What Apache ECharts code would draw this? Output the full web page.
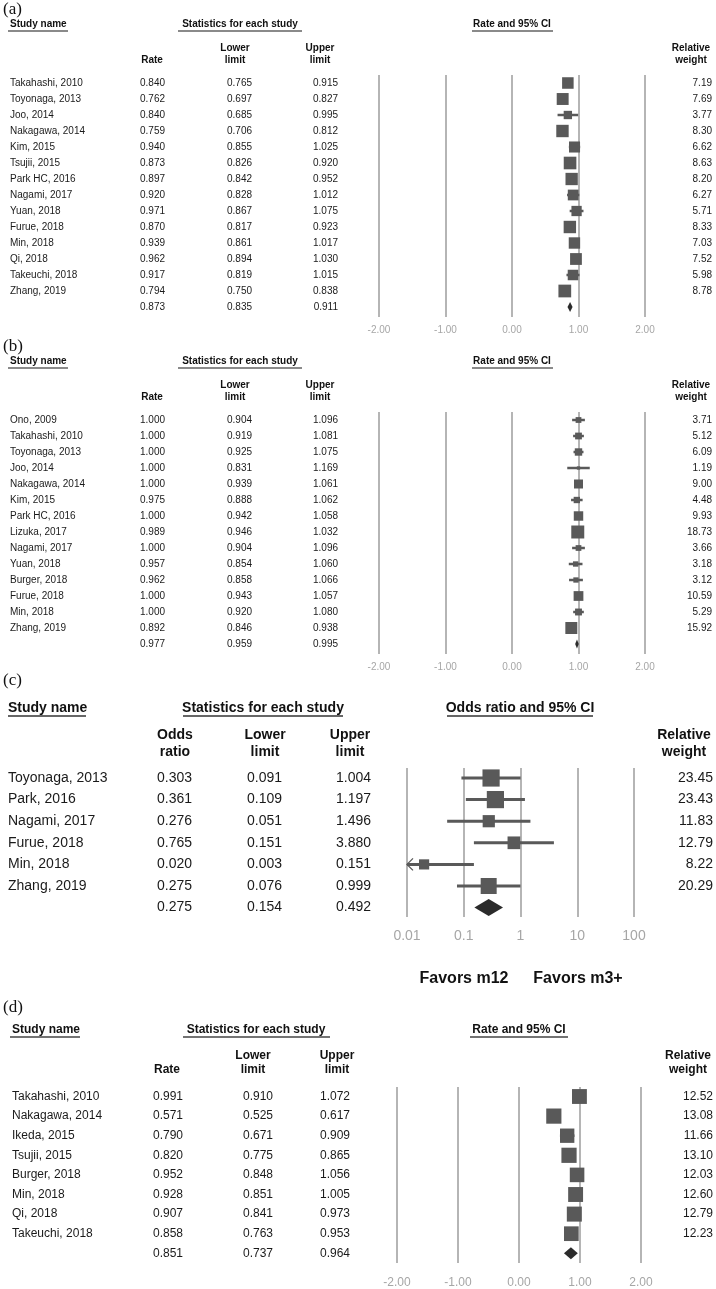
<!DOCTYPE html>
<html><head><meta charset="utf-8">
<script src="https://cdn.jsdelivr.net/npm/echarts@6/dist/echarts.min.js"></script>
<style>html,body{margin:0;padding:0;background:#fff}#c{width:716px;height:1289px}</style>
</head><body><div id="c"></div>
<script>
// ---------- DATA ----------
// Panel (a)
const aStudies = ['Takahashi, 2010','Toyonaga, 2013','Joo, 2014','Nakagawa, 2014','Kim, 2015','Tsujii, 2015','Park HC, 2016','Nagami, 2017','Yuan, 2018','Furue, 2018','Min, 2018','Qi, 2018','Takeuchi, 2018','Zhang, 2019'];
const aRate   = [0.840,0.762,0.840,0.759,0.940,0.873,0.897,0.920,0.971,0.870,0.939,0.962,0.917,0.794];
const aLower  = [0.765,0.697,0.685,0.706,0.855,0.826,0.842,0.828,0.867,0.817,0.861,0.894,0.819,0.750];
const aUpper  = [0.915,0.827,0.995,0.812,1.025,0.920,0.952,1.012,1.075,0.923,1.017,1.030,1.015,0.838];
const aWeight = [7.19,7.69,3.77,8.30,6.62,8.63,8.20,6.27,5.71,8.33,7.03,7.52,5.98,8.78];
const aSummary = [0.873,0.835,0.911];

// Panel (b)
const bStudies = ['Ono, 2009','Takahashi, 2010','Toyonaga, 2013','Joo, 2014','Nakagawa, 2014','Kim, 2015','Park HC, 2016','Lizuka, 2017','Nagami, 2017','Yuan, 2018','Burger, 2018','Furue, 2018','Min, 2018','Zhang, 2019'];
const bRate   = [1.000,1.000,1.000,1.000,1.000,0.975,1.000,0.989,1.000,0.957,0.962,1.000,1.000,0.892];
const bLower  = [0.904,0.919,0.925,0.831,0.939,0.888,0.942,0.946,0.904,0.854,0.858,0.943,0.920,0.846];
const bUpper  = [1.096,1.081,1.075,1.169,1.061,1.062,1.058,1.032,1.096,1.060,1.066,1.057,1.080,0.938];
const bWeight = [3.71,5.12,6.09,1.19,9.00,4.48,9.93,18.73,3.66,3.18,3.12,10.59,5.29,15.92];
const bSummary = [0.977,0.959,0.995];

// Panel (c)
const cStudies = ['Toyonaga, 2013','Park, 2016','Nagami, 2017','Furue, 2018','Min, 2018','Zhang, 2019'];
const cOdds   = [0.303,0.361,0.276,0.765,0.020,0.275];
const cLower  = [0.091,0.109,0.051,0.151,0.003,0.076];
const cUpper  = [1.004,1.197,1.496,3.880,0.151,0.999];
const cWeight = [23.45,23.43,11.83,12.79,8.22,20.29];
const cSummary = [0.275,0.154,0.492];

// Panel (d)
const dStudies = ['Takahashi, 2010','Nakagawa, 2014','Ikeda, 2015','Tsujii, 2015','Burger, 2018','Min, 2018','Qi, 2018','Takeuchi, 2018'];
const dRate   = [0.991,0.571,0.790,0.820,0.952,0.928,0.907,0.858];
const dLower  = [0.910,0.525,0.671,0.775,0.848,0.851,0.841,0.763];
const dUpper  = [1.072,0.617,0.909,0.865,1.056,1.005,0.973,0.953];
const dWeight = [12.52,13.08,11.66,13.10,12.03,12.60,12.79,12.23];
const dSummary = [0.851,0.737,0.964];

// Tick labels
const rateTicks = ['-2.00','-1.00','0.00','1.00','2.00'];
const rateTickValues = [-2,-1,0,1,2];
const oddsTicks = ['0.01','0.1','1','10','100'];
const oddsTickValues = [0.01,0.1,1,10,100];

// ---------- LAYOUT / STYLE ----------
const FONT = '"Liberation Sans", Arial, Helvetica, sans-serif';
const SERIF = '"Liberation Serif", "Times New Roman", serif';

function fmt(v){ return v.toFixed(2); }
function fmt3(v){ return v.toFixed(3); }

const panels = [
  { tag:'(a)', est:'Rate', plotTitle:'Rate and 95% CI', studies:aStudies, v:aRate, lo:aLower, hi:aUpper, w:aWeight, sum:aSummary,
    log:false, xMin:-2, xMax:2, ticks:rateTicks, tickVals:rateTickValues,
    L:{ labelY:10, headY:24, ulY:31, sub1Y:48, sub2Y:60, gridLeft:379, gridW:266, gridTop:75, gridH:242, yMin:-0.5, yMax:14.625,
        font:10, headFont:10, colName:10, colEst:165, colLo:252, colHi:338, colW:712,
        hStats:240, hPlot:512, hEst:152, hLo:235, hHi:320, hW:691,
        ulStudy:[8,68], ulStats:[178,302], ulPlot:[472,553], ulColor:'#8a8a8a', ulW:2,
        sizeK:4.3, whisker:2.5, diamondH:10, tickFont:10, tickMargin:8 } },
  { tag:'(b)', est:'Rate', plotTitle:'Rate and 95% CI', studies:bStudies, v:bRate, lo:bLower, hi:bUpper, w:bWeight, sum:bSummary,
    log:false, xMin:-2, xMax:2, ticks:rateTicks, tickVals:rateTickValues,
    L:{ labelY:347, headY:361, ulY:368, sub1Y:385, sub2Y:397, gridLeft:379, gridW:266, gridTop:412, gridH:242, yMin:-0.5, yMax:14.625,
        font:10, headFont:10, colName:10, colEst:165, colLo:252, colHi:338, colW:712,
        hStats:240, hPlot:512, hEst:152, hLo:235, hHi:320, hW:691,
        ulStudy:[8,68], ulStats:[178,302], ulPlot:[472,553], ulColor:'#8a8a8a', ulW:2,
        sizeK:3.0, whisker:2.5, diamondH:9, tickFont:10, tickMargin:8 } },
  { tag:'(c)', est:'Odds\nratio', plotTitle:'Odds ratio and 95% CI', studies:cStudies, v:cOdds, lo:cLower, hi:cUpper, w:cWeight, sum:cSummary,
    log:true, xMin:0.01, xMax:100, ticks:oddsTicks, tickVals:oddsTickValues,
    L:{ labelY:681, headY:708, ulY:716, sub1Y:735, sub2Y:752, gridLeft:407, gridW:227, gridTop:768, gridH:149, yMin:-0.463, yMax:6.435,
        font:14, headFont:14, colName:8, colEst:192, colLo:282, colHi:371, colW:713,
        hStats:263, hPlot:520, hEst:175, hLo:265, hHi:350, hW:684,
        ulStudy:[8,86], ulStats:[183,343], ulPlot:[447,593], ulColor:'#333333', ulW:1.5,
        sizeK:3.55, whisker:3, diamondH:17, tickFont:14, tickMargin:12 } },
  { tag:'(d)', est:'Rate', plotTitle:'Rate and 95% CI', studies:dStudies, v:dRate, lo:dLower, hi:dUpper, w:dWeight, sum:dSummary,
    log:false, xMin:-2, xMax:2, ticks:rateTicks, tickVals:rateTickValues,
    L:{ labelY:1008, headY:1030, ulY:1037, sub1Y:1056, sub2Y:1070, gridLeft:397, gridW:244, gridTop:1087, gridH:176, yMin:-0.485, yMax:8.495,
        font:12, headFont:12, colName:12, colEst:183, colLo:273, colHi:350, colW:713,
        hStats:256, hPlot:519, hEst:167, hLo:253, hHi:337, hW:688,
        ulStudy:[10,80], ulStats:[183,330], ulPlot:[470,568], ulColor:'#444444', ulW:1.5,
        sizeK:4.2, whisker:2.5, diamondH:12, tickFont:12, tickMargin:14 } }
];

const grids=[], xAxes=[], yAxes=[], series=[], graphics=[];
const MARK = '#595959', DIAM = '#2b2b2b', TXT = '#1a1a1a';

function txt(x, y, text, font, align, bold, color){
  return { type:'text', x:x, y:y, silent:true,
    style:{ text:text, font:(bold?'bold ':'')+font+'px '+FONT, fill:color||TXT, align:align||'left', verticalAlign:'middle' } };
}
function hline(x1, x2, y, color, w){
  return { type:'line', silent:true, shape:{x1:x1,y1:y,x2:x2,y2:y}, style:{stroke:color, lineWidth:w} };
}

panels.forEach((p, i) => {
  const L = p.L;
  grids.push({ left:L.gridLeft, top:L.gridTop, width:L.gridW, height:L.gridH, containLabel:false });
  const xa = { gridIndex:i, type:p.log?'log':'value', min:p.xMin, max:p.xMax,
    axisLine:{show:false}, axisTick:{show:false},
    splitLine:{ show:true, lineStyle:{ color:'#b5b5b5', width:2 } },
    axisLabel:{ show:true, color:'#a6a6a6', fontSize:L.tickFont, fontFamily:FONT, margin:L.tickMargin,
      showMinLabel:true, showMaxLabel:true,
      formatter:(val) => {
        let k = -1;
        p.tickVals.forEach((t, j) => { if (Math.abs(Math.log10(Math.abs(t)||1e-9) - Math.log10(Math.abs(val)||1e-9)) < 1e-6 && Math.sign(t)===Math.sign(val)) k = j; });
        return k >= 0 ? p.ticks[k] : '';
      } } };
  if (p.log) { xa.logBase = 10; } else { xa.interval = 1; }
  xAxes.push(xa);
  yAxes.push({ gridIndex:i, type:'value', inverse:true, min:L.yMin, max:L.yMax, show:false });

  const n = p.studies.length;
  // study markers
  series.push({
    type:'custom', xAxisIndex:i, yAxisIndex:i, silent:true, clip:false,
    data: p.studies.map((s, r) => [p.v[r], r, p.lo[r], p.hi[r], p.w[r]]),
    renderItem:(params, api) => {
      const est = api.value(0), row = api.value(1), lo = api.value(2), hi = api.value(3), w = api.value(4);
      const loC = Math.max(lo, p.xMin), hiC = Math.min(hi, p.xMax);
      const pe = api.coord([est, row]);
      const pl = api.coord([loC, row]);
      const ph = api.coord([hiC, row]);
      const s = L.sizeK * Math.sqrt(w);
      const ch = [
        { type:'line', shape:{x1:pl[0], y1:pe[1], x2:ph[0], y2:pe[1]}, style:{stroke:MARK, lineWidth:L.whisker} },
        { type:'rect', shape:{x:pe[0]-s/2, y:pe[1]-s/2, width:s, height:s}, style:{fill:MARK} }
      ];
      if (lo < p.xMin) {
        ch.push({ type:'polyline', shape:{points:[[pl[0]+6, pe[1]-6],[pl[0], pe[1]],[pl[0]+6, pe[1]+6]]}, style:{stroke:MARK, lineWidth:1.3, fill:null} });
      }
      return { type:'group', children:ch };
    }
  });
  // summary diamond
  series.push({
    type:'custom', xAxisIndex:i, yAxisIndex:i, silent:true, clip:false,
    data:[[p.sum[0], n, p.sum[1], p.sum[2]]],
    renderItem:(params, api) => {
      const row = api.value(1);
      const pe = api.coord([api.value(0), row]);
      const pl = api.coord([api.value(2), row]);
      const ph = api.coord([api.value(3), row]);
      const h = L.diamondH/2;
      const minHalf = 1.8;
      const xl = Math.min(pl[0], pe[0]-minHalf), xr = Math.max(ph[0], pe[0]+minHalf);
      return { type:'polygon', shape:{points:[[xl,pe[1]],[pe[0],pe[1]-h],[xr,pe[1]],[pe[0],pe[1]+h]]}, style:{fill:DIAM} };
    }
  });
  // table text rows
  series.push({
    type:'custom', xAxisIndex:i, yAxisIndex:i, silent:true, clip:false,
    data: p.studies.map((s, r) => [0, r]).concat([[0, n]]),
    renderItem:(params, api) => {
      const r = api.value(1);
      const y = api.coord([p.log?1:0, r])[1];
      const isSum = r === n;
      const est = isSum ? p.sum[0] : p.v[r];
      const lo = isSum ? p.sum[1] : p.lo[r];
      const hi = isSum ? p.sum[2] : p.hi[r];
      const ch = [
        txt(L.colEst, y, fmt3(est), L.font, 'right'),
        txt(L.colLo, y, fmt3(lo), L.font, 'right'),
        txt(L.colHi, y, fmt3(hi), L.font, 'right')
      ];
      if (!isSum) {
        ch.push(txt(L.colName, y, p.studies[r], L.font, 'left'));
        ch.push(txt(L.colW, y, fmt(p.w[r]), L.font, 'right'));
      }
      return { type:'group', children:ch };
    }
  });

  // headers
  graphics.push({ type:'text', x:3, y:L.labelY, silent:true, style:{ text:p.tag, font:'17px '+SERIF, fill:'#111', align:'left', verticalAlign:'middle' } });
  graphics.push(txt(L.colName, L.headY, 'Study name', L.headFont, 'left', true, '#111'));
  graphics.push(txt(L.hStats, L.headY, 'Statistics for each study', L.headFont, 'center', true, '#111'));
  graphics.push(txt(L.hPlot, L.headY, p.plotTitle, L.headFont, 'center', true, '#111'));
  graphics.push(hline(L.ulStudy[0], L.ulStudy[1], L.ulY, L.ulColor, L.ulW));
  graphics.push(hline(L.ulStats[0], L.ulStats[1], L.ulY, L.ulColor, L.ulW));
  graphics.push(hline(L.ulPlot[0], L.ulPlot[1], L.ulY, L.ulColor, L.ulW));
  const estLines = p.est.split('\n');
  if (estLines.length === 2) {
    graphics.push(txt(L.hEst, L.sub1Y, estLines[0], L.headFont, 'center', true, '#111'));
    graphics.push(txt(L.hEst, L.sub2Y, estLines[1], L.headFont, 'center', true, '#111'));
  } else {
    graphics.push(txt(L.hEst, L.sub2Y, estLines[0], L.headFont, 'center', true, '#111'));
  }
  graphics.push(txt(L.hLo, L.sub1Y, 'Lower', L.headFont, 'center', true, '#111'));
  graphics.push(txt(L.hLo, L.sub2Y, 'limit', L.headFont, 'center', true, '#111'));
  graphics.push(txt(L.hHi, L.sub1Y, 'Upper', L.headFont, 'center', true, '#111'));
  graphics.push(txt(L.hHi, L.sub2Y, 'limit', L.headFont, 'center', true, '#111'));
  graphics.push(txt(L.hW, L.sub1Y, 'Relative', L.headFont, 'center', true, '#111'));
  graphics.push(txt(L.hW, L.sub2Y, 'weight', L.headFont, 'center', true, '#111'));
});

// Favors labels under panel (c)
graphics.push(txt(464, 979, 'Favors m12', 16, 'center', true, '#111'));
graphics.push(txt(578, 979, 'Favors m3+', 16, 'center', true, '#111'));

const chart = echarts.init(document.getElementById('c'), null, { renderer:'canvas' });
chart.setOption({
  animation:false,
  backgroundColor:'#ffffff',
  grid:grids, xAxis:xAxes, yAxis:yAxes, series:series, graphic:graphics
});
</script>
</body></html>
